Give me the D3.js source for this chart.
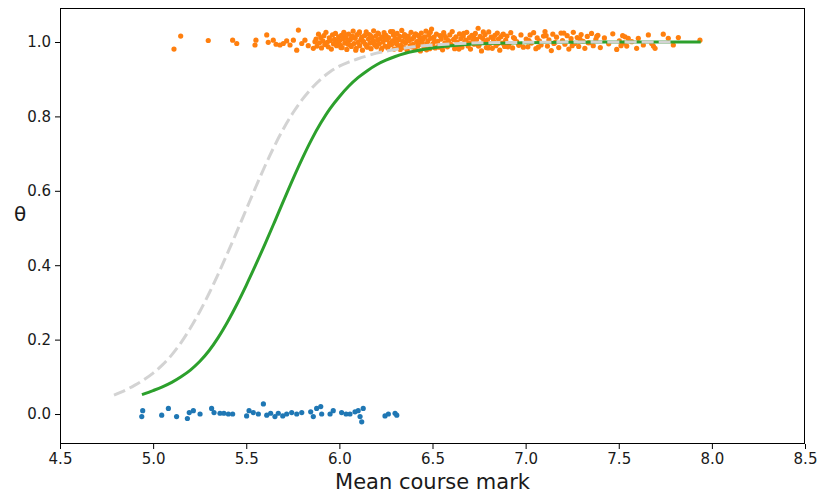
<!DOCTYPE html>
<html>
<head>
<meta charset="utf-8">
<script src="https://cdn.jsdelivr.net/npm/d3@7"></script>
<style>
  html, body { margin: 0; padding: 0; background: #fff; }
  svg { display: block; }
  text { font-family: "DejaVu Sans", sans-serif; }
</style>
</head>
<body>
<svg id="chart" width="817" height="496"></svg>
<script>
// ---------------- data ----------------
const xTicks = [4.5, 5.0, 5.5, 6.0, 6.5, 7.0, 7.5, 8.0, 8.5];
const yTicks = [0.0, 0.2, 0.4, 0.6, 0.8, 1.0];

// failed students (θ = 0, jittered)
const blueX = [4.944, 4.939, 5.046, 5.082, 5.126, 5.184, 5.194, 5.216, 5.252, 5.314, 5.327, 5.359, 5.38, 5.404, 5.427,
  5.502, 5.515, 5.538, 5.565, 5.592, 5.61, 5.631, 5.654, 5.672, 5.696, 5.717, 5.744, 5.771, 5.798, 5.846, 5.86, 5.878,
  5.9, 5.905, 5.95, 5.967, 6.012, 6.036, 6.057, 6.084, 6.101, 6.111, 6.12, 6.128, 6.245, 6.263, 6.299, 6.308];
const blueY = [0.009, -0.007, -0.003, 0.015, -0.007, -0.012, 0.004, 0.009, 0.0, 0.015, 0.004, 0.002, 0.002, 0.0, 0.0,
  -0.005, 0.009, 0.004, 0.0, 0.027, -0.003, 0.002, -0.007, 0.002, -0.005, 0.0, 0.004, 0.0, 0.004, 0.006, -0.007, 0.015,
  0.02, 0.0, 0.0, 0.009, 0.004, 0.0, 0.0, 0.006, 0.009, -0.007, -0.021, 0.015, -0.005, 0.0, 0.002, -0.003];

// passed students (θ = 1, jittered)
const orangeX = [
  5.112, 5.148, 5.296, 5.427, 5.449, 5.547, 5.552, 5.61, 5.618, 5.645, 5.66, 5.681, 5.699, 5.717, 5.735, 5.753, 5.771, 5.78, 5.798, 5.815, 5.833, 5.86, 5.869,
  5.875, 5.88, 5.888, 5.893, 5.9, 5.904, 5.911, 5.917, 5.922, 5.928, 5.935, 5.94, 5.946, 5.951, 5.957, 5.963, 5.968, 5.974, 5.979, 5.985, 5.99, 5.996,
  6.002, 6.006, 6.011, 6.015, 6.02, 6.024, 6.029, 6.035, 6.04, 6.044, 6.05, 6.055, 6.059, 6.064, 6.07, 6.074, 6.079, 6.085, 6.09, 6.094,
  6.1, 6.105, 6.109, 6.115, 6.12, 6.124, 6.13, 6.135, 6.14, 6.144, 6.15, 6.156, 6.16, 6.165, 6.17, 6.175, 6.18, 6.184, 6.19, 6.195,
  6.2, 6.205, 6.21, 6.214, 6.22, 6.225, 6.23, 6.234, 6.24, 6.245, 6.25, 6.255, 6.26, 6.264, 6.27, 6.275, 6.28, 6.285, 6.29, 6.294,
  6.3, 6.305, 6.31, 6.315, 6.32, 6.324, 6.33, 6.335, 6.34, 6.345, 6.35, 6.355, 6.36, 6.364, 6.37, 6.375, 6.38, 6.385, 6.39, 6.395,
  6.4, 6.405, 6.41, 6.415, 6.42, 6.425, 6.43, 6.435, 6.44, 6.445, 6.45, 6.455, 6.46, 6.465, 6.47, 6.475, 6.48, 6.485, 6.49, 6.495,
  6.502, 6.508, 6.515, 6.521, 6.528, 6.534, 6.541, 6.547, 6.554, 6.56, 6.567, 6.573, 6.58, 6.586, 6.593, 6.6, 6.606, 6.613, 6.619, 6.626,
  6.632, 6.639, 6.645, 6.652, 6.658, 6.665, 6.671, 6.678, 6.684, 6.691, 6.698, 6.704, 6.711, 6.717, 6.724, 6.73, 6.737, 6.745, 6.75, 6.756,
  6.763, 6.769, 6.776, 6.782, 6.789, 6.795, 6.802, 6.808, 6.815, 6.821, 6.828, 6.835, 6.841, 6.848, 6.854, 6.861, 6.867, 6.874, 6.88, 6.887,
  6.893, 6.9, 6.91, 6.92, 6.93, 6.94, 6.952, 6.963, 6.975, 6.988,
  7.003, 7.012, 7.024, 7.031, 7.043, 7.055, 7.062, 7.074, 7.083, 7.096, 7.104, 7.117, 7.125, 7.138, 7.146, 7.159, 7.166, 7.178, 7.19, 7.198,
  7.211, 7.223, 7.232, 7.244, 7.256, 7.263, 7.277, 7.285, 7.298, 7.309, 7.318, 7.331, 7.342, 7.354, 7.363, 7.377, 7.388, 7.401, 7.423, 7.446,
  7.468, 7.489,
  7.503, 7.512, 7.521, 7.528, 7.534, 7.543, 7.551, 7.57, 7.596, 7.605, 7.632, 7.659, 7.677, 7.686, 7.695, 7.739, 7.766, 7.793, 7.82, 7.936];
const orangeY = [
  0.981, 1.016, 1.004, 1.005, 0.996, 0.992, 1.005, 1.019, 0.999, 1.005, 0.994, 0.992, 0.996, 1.003, 0.992, 1.005, 0.978, 1.032, 0.996, 1.005, 0.99, 0.983, 1.001,
  1.008, 0.989, 1.021, 0.998, 1.012, 0.984, 1.003, 1.017, 0.993, 1.026, 0.999, 0.987, 1.011, 1.004, 0.981, 1.019, 0.995, 1.007, 1.023, 0.990, 1.001, 1.014,
  1.004, 0.991, 1.018, 0.985, 1.009, 1.026, 0.997, 1.012, 0.980, 1.002, 1.021, 0.993, 1.007, 0.988, 1.015, 1.029, 0.996, 1.010, 0.983, 1.019,
  0.999, 1.024, 0.990, 1.006, 1.013, 0.978, 1.001, 1.017, 0.994, 1.027, 0.986, 1.008, 1.020, 0.997, 0.982, 1.011, 1.003, 1.030, 0.992, 1.016,
  0.987, 1.005, 1.022, 0.995, 1.009, 0.979, 1.014, 1.000, 1.025, 0.989, 1.018, 1.006, 0.984, 1.012, 0.998, 1.028, 0.993, 1.003, 1.019, 0.981,
  1.010, 0.996, 1.023, 0.988, 1.007, 1.015, 0.991, 1.031, 1.002, 0.985, 1.020, 0.997, 1.011, 0.978, 1.016, 1.004, 0.990, 1.026, 1.008, 0.994,
  1.013, 0.983, 1.021, 1.001, 0.989, 1.017, 1.005, 0.976, 1.024, 0.999, 1.009, 0.986, 1.014, 1.029, 0.995, 1.003, 1.019, 0.982, 1.010, 1.035,
  0.995, 1.013, 0.984, 1.021, 1.002, 0.990, 1.017, 1.008, 0.979, 1.025, 0.998, 1.011, 0.987, 1.004, 1.019, 0.993, 1.028, 1.006, 0.982, 1.014,
  1.000, 0.991, 1.022, 1.009, 0.986, 1.016, 0.997, 1.005, 1.026, 0.989, 1.012, 0.981, 1.018, 1.003, 0.994, 1.023, 1.007, 1.037, 0.992, 1.015,
  0.976, 1.010, 0.999, 1.020, 0.985, 1.006, 1.027, 0.996, 1.013, 0.983, 1.002, 1.018, 0.990, 1.024, 1.008, 0.978, 1.014, 0.997, 1.021, 0.988,
  1.005, 1.016, 0.993, 1.025, 0.984, 1.010, 1.001, 0.991, 1.019, 0.986,
  1.008, 0.987, 1.019, 0.997, 1.025, 0.982, 1.011, 1.003, 0.992, 1.016, 1.028, 0.989, 1.006, 0.977, 1.021, 0.999, 1.013, 0.985, 1.024, 1.004,
  0.994, 1.017, 0.981, 1.009, 1.026, 0.996, 1.012, 0.988, 1.020, 1.002, 0.983, 1.015, 0.998, 1.023, 0.990, 1.007, 1.018, 0.985, 1.011, 0.995,
  1.022, 0.980,
  1.003, 0.990, 1.017, 0.997, 1.014, 0.989, 1.010, 1.001, 0.983, 1.010, 0.992, 1.019, 0.996, 0.989, 0.983, 1.021, 1.010, 0.992, 1.012, 1.005];
const orangeX2 = [6.008, 6.027, 6.047, 6.067, 6.088, 6.108, 6.127, 6.147, 6.167, 6.188, 6.207, 6.228, 6.247, 6.268, 6.287, 6.308, 6.327,
  6.348, 6.367, 6.388, 6.408, 6.428, 6.447, 6.468, 6.488, 6.511, 6.537, 6.563, 6.589, 6.616, 6.642, 6.668, 6.694, 6.72, 6.747, 6.773,
  6.799, 6.826, 6.851, 6.878, 6.905, 6.935, 6.968, 7.018, 7.068, 7.11, 7.152, 7.205, 7.25, 7.292, 7.336, 7.382];
const orangeY2 = [0.985, 1.022, 0.994, 1.013, 0.978, 1.027, 1.001, 0.988, 1.017, 0.996, 1.024, 0.983, 1.009, 0.991, 1.028, 0.999, 0.980,
  1.015, 1.005, 0.987, 1.021, 0.993, 1.011, 0.979, 1.026, 1.002, 0.986, 1.018, 0.995, 1.008, 0.981, 1.023, 0.998, 1.014, 0.989, 1.027,
  0.984, 1.010, 0.996, 1.020, 0.987, 1.012, 0.993, 1.004, 0.986, 1.017, 0.996, 1.024, 0.990, 1.008, 0.998, 1.015];

// fitted curve (green)
const fitX = [4.94, 5.0, 5.05, 5.1, 5.15, 5.2, 5.25, 5.3, 5.35, 5.4, 5.45, 5.5, 5.55, 5.6, 5.65, 5.7, 5.75, 5.8, 5.85, 5.9,
  5.95, 6.0, 6.05, 6.1, 6.15, 6.2, 6.25, 6.3, 6.35, 6.4, 6.5, 6.6, 6.7, 6.8, 7.0, 7.3, 7.6, 7.94];
const fitY = [0.052, 0.063, 0.073, 0.085, 0.100, 0.118, 0.141, 0.170, 0.206, 0.248, 0.295, 0.346, 0.400, 0.456, 0.514, 0.573,
  0.631, 0.686, 0.737, 0.782, 0.821, 0.853, 0.881, 0.904, 0.923, 0.939, 0.951, 0.961, 0.969, 0.975, 0.984, 0.990, 0.994, 0.996,
  0.998, 0.9995, 1.0, 1.0];

// reference curve (grey dashed)
const refX = [4.79, 4.85, 4.9, 4.95, 5.0, 5.05, 5.1, 5.15, 5.2, 5.25, 5.3, 5.35, 5.4, 5.45, 5.5, 5.55, 5.6, 5.65, 5.7, 5.75,
  5.8, 5.85, 5.9, 5.95, 6.0, 6.05, 6.1, 6.2, 6.3, 6.4, 6.5, 6.7, 7.0, 7.4, 7.79];
const refY = [0.051, 0.064, 0.077, 0.092, 0.110, 0.132, 0.159, 0.192, 0.231, 0.275, 0.324, 0.377, 0.433, 0.491, 0.550, 0.609,
  0.666, 0.719, 0.767, 0.809, 0.845, 0.875, 0.900, 0.920, 0.935, 0.946, 0.955, 0.970, 0.980, 0.987, 0.992, 0.997, 0.999, 1.0, 1.0];

// ---------------- drawing ----------------
const svg = d3.select("#chart");
const L = 60, R = 805, T = 8, B = 444;

const x = d3.scaleLinear().domain([4.5, 8.5]).range([L, R]);
const y = d3.scaleLinear().domain([-0.0806, 1.0914]).range([B, T]);

const plot = svg.append("g");

// scatter: passed
plot.append("g").selectAll("circle")
  .data(d3.zip(orangeX, orangeY).concat(d3.zip(orangeX2, orangeY2)))
  .join("circle")
  .attr("cx", d => x(d[0]))
  .attr("cy", d => y(d[1]))
  .attr("r", 2.6)
  .attr("fill", "#ff7f0e");

// scatter: failed
plot.append("g").selectAll("circle")
  .data(d3.zip(blueX, blueY))
  .join("circle")
  .attr("cx", d => x(d[0]))
  .attr("cy", d => y(d[1]))
  .attr("r", 2.6)
  .attr("fill", "#1f77b4");

const line = d3.line().x(d => x(d[0])).y(d => y(d[1])).curve(d3.curveCatmullRom.alpha(0.5));

plot.append("path")
  .datum(d3.zip(fitX, fitY))
  .attr("d", line)
  .attr("fill", "none")
  .attr("stroke", "#2ca02c")
  .attr("stroke-width", 3);

plot.append("path")
  .datum(d3.zip(refX, refY))
  .attr("d", line)
  .attr("fill", "none")
  .attr("stroke", "#d3d3d3")
  .attr("stroke-width", 3)
  .attr("stroke-dasharray", "12,5");

// axes
const xAxis = d3.axisBottom(x).tickValues(xTicks).tickFormat(d3.format(".1f")).tickSizeOuter(0).tickSize(5).tickPadding(4);
const yAxis = d3.axisLeft(y).tickValues(yTicks).tickFormat(d3.format(".1f")).tickSizeOuter(0).tickSize(5).tickPadding(4);

const gx = svg.append("g").attr("transform", `translate(0,${B})`).call(xAxis);
const gy = svg.append("g").attr("transform", `translate(${L},0)`).call(yAxis);
[gx, gy].forEach(g => {
  g.select(".domain").remove();
  g.selectAll(".tick line").attr("stroke", "#000").attr("stroke-width", 1);
  g.selectAll(".tick text").attr("fill", "#1a1a1a").style("font-size", "15px").style("font-family", "DejaVu Sans, sans-serif");
});

// frame
svg.append("rect")
  .attr("x", L + 0.5).attr("y", T + 0.5)
  .attr("width", R - L - 1).attr("height", B - T - 1)
  .attr("fill", "none").attr("stroke", "#000").attr("stroke-width", 1);

// labels
svg.append("text")
  .attr("x", (L + R) / 2).attr("y", 489)
  .attr("text-anchor", "middle")
  .style("font-size", "21px")
  .attr("fill", "#1a1a1a")
  .text("Mean course mark");

svg.append("text")
  .attr("x", 20).attr("y", 221)
  .attr("text-anchor", "middle")
  .style("font-size", "20px")
  .attr("fill", "#1a1a1a")
  .text("θ");
</script>
</body>
</html>
